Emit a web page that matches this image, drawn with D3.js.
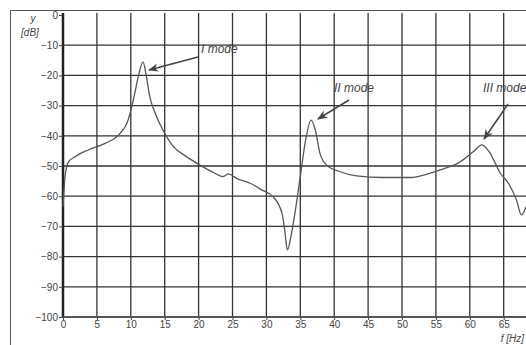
<!DOCTYPE html>
<html>
<head>
<meta charset="utf-8">
<script src="https://cdn.jsdelivr.net/npm/d3@7"></script>
<style>
  body { margin: 0; background: #fff; }
  svg { display: block; font-family: "Liberation Sans", Arial, sans-serif; }
</style>
</head>
<body>
<div class="container"></div>
<script>
// frequency [Hz] and response [dB]
const freq = [0, 0.3, 0.8, 1.8, 3.7, 6.2, 8.2, 9.6, 10.1, 10.6, 11.1, 11.8, 12.3, 12.8, 13.6, 14.6,
    16.3, 18.2, 20.2, 22.4, 23.6, 24.4, 25.6, 27.6, 29.3, 31.0, 32.3, 32.7, 33.1, 33.7, 34.5, 35.2,
    35.7, 36.6, 37.2, 37.9, 38.9, 40.9, 43.3, 47.2, 51.2, 52.7, 55.6, 58.6, 60.5, 61.8, 63.0, 64.5,
    65.7, 66.9, 67.6, 68.3];
const level = [-63.5, -53.5, -48.6, -46.9, -44.7, -42.5, -39.7, -34.8, -30.8, -25.8, -20.4, -15.5, -20.4, -27.0, -32.5, -37.5,
    -43.6, -46.9, -49.7, -52.4, -53.5, -52.6, -54.1, -55.7, -57.9, -60.2, -65.7, -71.2, -77.8, -72.3, -61.3, -50.2,
    -42.5, -34.8, -38.0, -45.8, -49.7, -51.9, -53.3, -53.8, -53.8, -53.3, -51.3, -48.6, -45.3, -43.0, -45.8, -52.4,
    -55.7, -61.3, -66.2, -63.5];

const xTicks = [0, 5, 10, 15, 20, 25, 30, 35, 40, 45, 50, 55, 60, 65];
const yTicks = [0, -10, -20, -30, -40, -50, -60, -70, -80, -90, -100];

const modes = [
    {label: 'I mode', tx: 201, ty: 53, from: [198, 57], to: [149, 70]},
    {label: 'II mode', tx: 334, ty: 92, from: [349, 100], to: [318, 119]},
    {label: 'III mode', tx: 483, ty: 92, from: [508, 104], to: [484, 139]}
];

function chart(width = 526, height = 345) {
    const x = d3.scaleLinear().domain([0, 70]).range([63, 63 + 70 * 6.78]);
    const y = d3.scaleLinear().domain([-100, 0]).range([317, 15]);

    const svg = d3.select('.container')
        .append('svg')
        .attr('width', width)
        .attr('height', height);

    svg.append('defs').append('marker')
        .attr('id', 'arrow')
        .attr('viewBox', '0 0 10 10')
        .attr('refX', 9).attr('refY', 5)
        .attr('markerWidth', 7).attr('markerHeight', 7)
        .attr('orient', 'auto')
        .append('path')
        .attr('d', 'M0,1 L10,5 L0,9 L3,5 Z')
        .attr('fill', '#444');

    // outer frame (left + top)
    svg.append('path')
        .attr('d', `M10.5,${height} L10.5,10.5 L${width},10.5`)
        .attr('fill', 'none')
        .attr('stroke', '#555')
        .attr('stroke-width', 1);

    // grid
    svg.append('g')
        .selectAll('line')
        .data(xTicks.filter(d => d > 0))
        .join('line')
        .attr('x1', d => x(d)).attr('x2', d => x(d))
        .attr('y1', y(0) - 2).attr('y2', y(-100))
        .attr('stroke', '#333')
        .attr('stroke-width', 1.3);

    svg.append('g')
        .selectAll('line')
        .data(yTicks.filter(d => d < 0 && d > -100))
        .join('line')
        .attr('x1', x(0)).attr('x2', width)
        .attr('y1', d => y(d)).attr('y2', d => y(d))
        .attr('stroke', '#333')
        .attr('stroke-width', 1.3);

    // axes
    const yAxis = svg.append('g')
        .attr('transform', `translate(${x(0)},0)`)
        .call(d3.axisLeft(y).tickValues(yTicks).tickSize(4).tickFormat(d3.format('d')));
    yAxis.select('.domain').attr('stroke', '#222').attr('stroke-width', 2.5)
        .attr('d', `M0,${y(0) - 2}V${y(-100)}`);
    yAxis.selectAll('.tick line').attr('stroke', '#444');
    yAxis.selectAll('.tick text')
        .attr('fill', '#444').attr('font-size', 10).attr('x', -5);

    const xAxis = svg.append('g')
        .attr('transform', `translate(0,${y(-100)})`)
        .call(d3.axisBottom(x).tickValues(xTicks).tickSize(3).tickFormat(d3.format('d')));
    xAxis.select('.domain').attr('stroke', '#555').attr('stroke-width', 2)
        .attr('d', `M${x(0)},0H${width}`);
    xAxis.selectAll('.tick line').attr('stroke', '#444');
    xAxis.selectAll('.tick text')
        .attr('fill', '#444').attr('font-size', 10).attr('y', 4);

    // axis titles
    svg.append('text').attr('x', 33).attr('y', 22).attr('text-anchor', 'middle')
        .attr('font-size', 10).attr('font-style', 'italic').attr('fill', '#444').text('y');
    svg.append('text').attr('x', 30).attr('y', 36).attr('text-anchor', 'middle')
        .attr('font-size', 10).attr('font-style', 'italic').attr('fill', '#444').text('[dB]');
    svg.append('text').attr('x', 524).attr('y', 342).attr('text-anchor', 'end')
        .attr('font-size', 10).attr('font-style', 'italic').attr('fill', '#444').text('f [Hz]');

    // response curve
    const line = d3.line()
        .x((d, i) => x(freq[i]))
        .y(d => y(d))
        .curve(d3.curveMonotoneX);

    svg.append('path')
        .datum(level)
        .attr('d', line)
        .attr('fill', 'none')
        .attr('stroke', '#555')
        .attr('stroke-width', 1.3);

    // mode annotations
    const ann = svg.append('g');
    ann.selectAll('text')
        .data(modes)
        .join('text')
        .attr('x', d => d.tx).attr('y', d => d.ty)
        .attr('font-size', 12).attr('font-style', 'italic').attr('fill', '#444')
        .text(d => d.label);
    ann.selectAll('line')
        .data(modes)
        .join('line')
        .attr('x1', d => d.from[0]).attr('y1', d => d.from[1])
        .attr('x2', d => d.to[0]).attr('y2', d => d.to[1])
        .attr('stroke', '#444')
        .attr('stroke-width', 1.5)
        .attr('marker-end', 'url(#arrow)');

    return svg.node();
}

chart();
</script>
</body>
</html>
